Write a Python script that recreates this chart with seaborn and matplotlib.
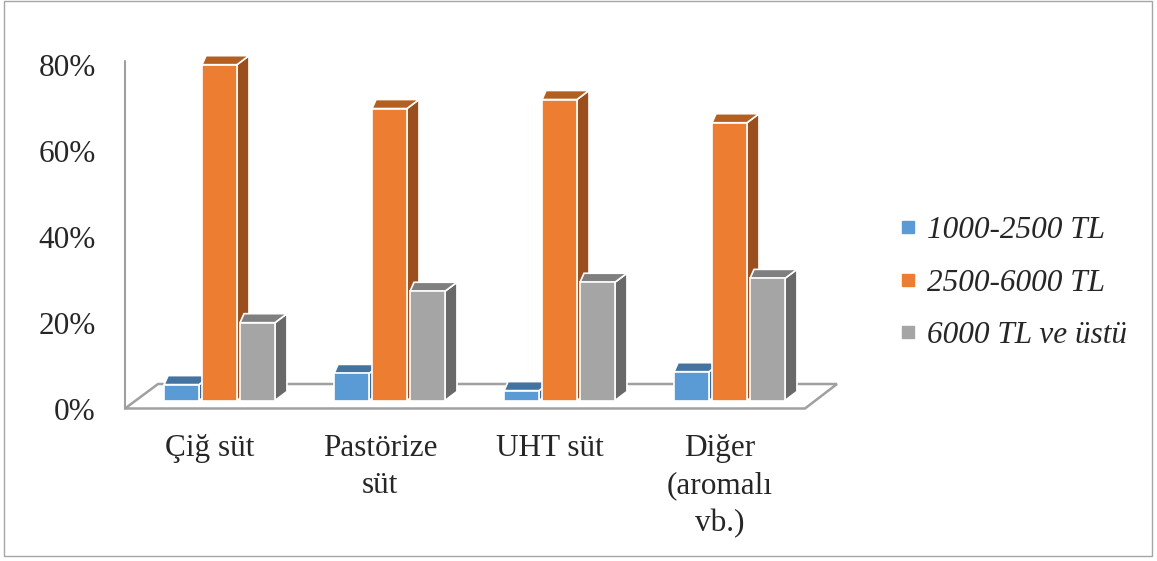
import numpy as np
import pandas as pd
import seaborn as sns
import matplotlib
matplotlib.use("Agg")
import matplotlib.pyplot as plt
from matplotlib.patches import Polygon, Rectangle
from matplotlib.lines import Line2D
from matplotlib.transforms import ScaledTranslation, IdentityTransform

# Share of respondents by monthly income band for each milk type (%)
categories = ["Çiğ süt", "Pastörize\nsüt", "UHT süt", "Diğer\n(aromalı\nvb.)"]
bands = ["1000-2500 TL", "2500-6000 TL", "6000 TL ve üstü"]
low_income = [3.7, 6.3, 2.3, 6.7]
mid_income = [78.1, 67.9, 70.0, 64.6]
high_income = [18.1, 25.4, 27.5, 28.4]
y_ticks = [0, 20, 40, 60, 80]

front_colors = ["#5B9BD5", "#ED7D31", "#A5A5A5"]
top_colors = ["#44739F", "#B45F22", "#7F7F7F"]
side_colors = ["#3D6891", "#9C4F1E", "#696969"]

df = pd.DataFrame({
    "kategori": np.repeat(categories, 3),
    "gelir": bands * len(categories),
    "oran": np.ravel(np.column_stack([low_income, mid_income, high_income])),
})

sns.set_style("white")
plt.rcParams["font.family"] = ["Liberation Serif", "DejaVu Serif"]

W, H = 1157, 561
fig = plt.figure(figsize=(W / 100, H / 100), dpi=100)
# axes in the plane of the bar fronts (pixel geometry)
left_px, right_px = 125, 805
base_px, top_px = 400.5, 56.5
ax = fig.add_axes([left_px / W, (H - base_px) / H,
                   (right_px - left_px) / W, (base_px - top_px) / H])

sns.barplot(data=df, x="kategori", y="oran", hue="gelir", hue_order=bands,
            order=categories, palette=front_colors, saturation=1, width=0.67, gap=0.08,
            edgecolor="white", linewidth=1.2, legend=False, ax=ax)

ax.set_xlim(-0.556, 3.444)
ax.set_ylim(0, 80)
for s in ax.spines.values():
    s.set_visible(False)
ax.set_xlabel("")
ax.set_ylabel("")
ax.set_yticks(y_ticks)
ax.set_yticklabels([f"{t}%" for t in y_ticks], fontsize=22.5)
ax.set_xticks(range(len(categories)))
ax.set_xticklabels(categories, fontsize=22.5, linespacing=1.38)
ax.tick_params(axis="y", length=0, pad=21)
ax.tick_params(axis="x", length=0, pad=24)

# labels sit on the front edge of the floor
for lab in ax.get_yticklabels():
    lab.set_transform(lab.get_transform() + ScaledTranslation(0, -0.08, fig.dpi_scale_trans))
for lab in ax.get_xticklabels():
    lab.set_transform(lab.get_transform() + ScaledTranslation(-0.095, 0, fig.dpi_scale_trans))

ident = IdentityTransform()


def disp(x, y):
    return ax.transData.transform((x, y))


# floor outline and value axis line
front_off, back_off = -8.0, 16.5   # display-y offsets from bar plane
depth_dx = 33
fl = disp(ax.get_xlim()[0], 0)
fr = disp(ax.get_xlim()[1], 0)
floor = [
    (fl[0], fl[1] + front_off),
    (fr[0], fr[1] + front_off),
    (fr[0] + depth_dx - 1, fr[1] + back_off),
    (fl[0] + depth_dx, fl[1] + back_off),
]
ax.add_patch(Polygon(floor, closed=True, facecolor="white", edgecolor="#A0A0A0",
                     linewidth=1.8, transform=ident, clip_on=False, zorder=1))
ax.add_line(Line2D([fl[0], fl[0]], [fl[1] + front_off, H - 61], color="#A0A0A0",
                   linewidth=1.5, transform=ident, clip_on=False, zorder=1))

# extrude each bar: side and top faces, drawn left to right
bars = sorted([p for p in ax.patches if isinstance(p, Rectangle) and p.get_width() > 0][:12],
              key=lambda p: p.get_x())
dx_back_r, dx_back_l, dy_back = 12, 4, 9
for k, bar in enumerate(bars):
    hue_idx = k % 3
    x0, x1 = bar.get_x(), bar.get_x() + bar.get_width()
    h = bar.get_height()
    bl, br = disp(x0, 0), disp(x1, 0)
    tl, tr = disp(x0, h), disp(x1, h)
    side = [tuple(br), (br[0] + dx_back_r, br[1] + dy_back),
            (tr[0] + dx_back_r, tr[1] + dy_back), tuple(tr)]
    top = [tuple(tl), tuple(tr), (tr[0] + dx_back_r, tr[1] + dy_back),
           (tl[0] + dx_back_l, tl[1] + dy_back)]
    z = 2 + 2 * k
    ax.add_patch(Polygon(side, closed=True, facecolor=side_colors[hue_idx],
                         edgecolor="white", linewidth=1.2, transform=ident,
                         clip_on=False, zorder=z))
    ax.add_patch(Polygon(top, closed=True, facecolor=top_colors[hue_idx],
                         edgecolor="white", linewidth=1.2, transform=ident,
                         clip_on=False, zorder=z))
    bar.set_zorder(z + 1)
    bar.set_clip_on(False)

# legend
handles = [Line2D([], [], linestyle="none", marker="s", markersize=9,
                  markerfacecolor=c, markeredgecolor=c) for c in front_colors]
fig.legend(handles, bands, loc="center left", bbox_to_anchor=(883 / W, 1 - 283 / H),
           frameon=False, prop={"family": "Liberation Serif", "style": "italic", "size": 22.5},
           handlelength=0.6, handletextpad=0.3, labelspacing=0.74, borderpad=0)

# outer frame
fig.patches.append(Rectangle((4 / W, 5 / H), (1152 - 4) / W, (H - 6) / H,
                             transform=fig.transFigure, fill=False,
                             edgecolor="#A6A6A6", linewidth=1.0))

fig.savefig("out.png", dpi=100, facecolor="white")
